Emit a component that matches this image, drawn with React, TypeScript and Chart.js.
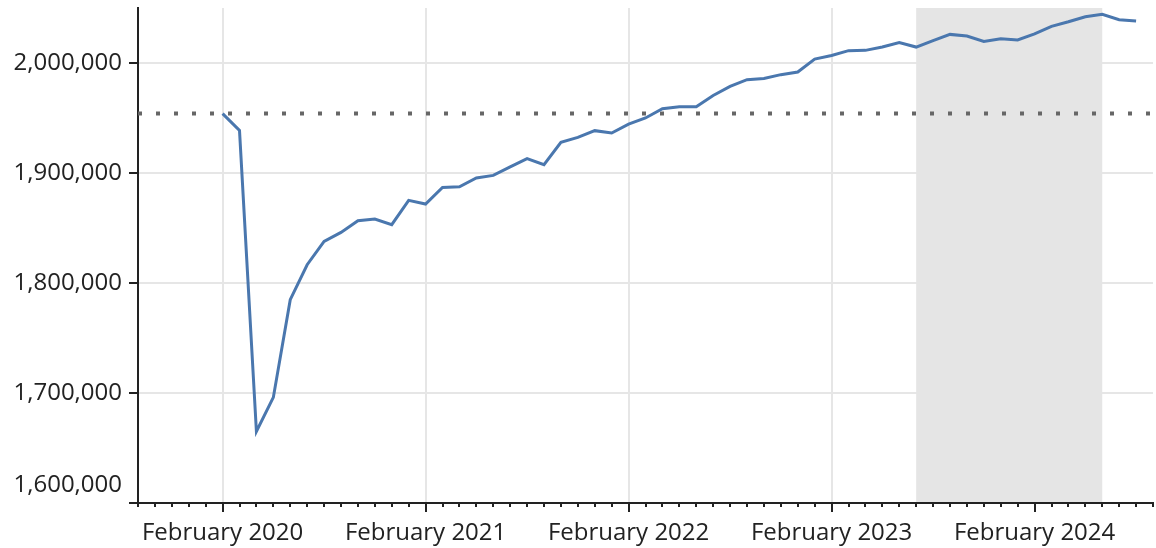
import React, { useEffect, useRef } from "react";
import { Chart, registerables } from "chart.js";

Chart.register(...registerables);

// Months of the series (index 0 = February 2020)
const months: string[] = [
  "2020-02", "2020-03", "2020-04", "2020-05", "2020-06", "2020-07", "2020-08", "2020-09", "2020-10", "2020-11", "2020-12",
  "2021-01", "2021-02", "2021-03", "2021-04", "2021-05", "2021-06", "2021-07", "2021-08", "2021-09", "2021-10", "2021-11", "2021-12",
  "2022-01", "2022-02", "2022-03", "2022-04", "2022-05", "2022-06", "2022-07", "2022-08", "2022-09", "2022-10", "2022-11", "2022-12",
  "2023-01", "2023-02", "2023-03", "2023-04", "2023-05", "2023-06", "2023-07", "2023-08", "2023-09", "2023-10", "2023-11", "2023-12",
  "2024-01", "2024-02", "2024-03", "2024-04", "2024-05", "2024-06", "2024-07", "2024-08",
];

const values: number[] = [
  1954000, 1938700, 1665000, 1696000, 1784800, 1816600, 1837800, 1846000, 1856600, 1858200, 1853000,
  1875100, 1871800, 1886900, 1887500, 1895500, 1897800, 1905500, 1913000, 1907500, 1927800, 1932400, 1938500,
  1936400, 1944500, 1950000, 1958500, 1960300, 1960300, 1970500, 1978700, 1984800, 1986000, 1989400, 1991800,
  2003600, 2006800, 2011200, 2011500, 2014500, 2018700, 2014500, 2020300, 2026000, 2024500, 2019600, 2022100,
  2020900, 2026400, 2033300, 2037500, 2042100, 2044200, 2039400, 2038200,
];

const baselineValue = 1954000; // February 2020 level (dotted reference)

const xTickMonths: string[] = ["2020-02", "2021-02", "2022-02", "2023-02", "2024-02"];
const xTickLabels: string[] = ["February 2020", "February 2021", "February 2022", "February 2023", "February 2024"];

const yTicks: number[] = [1600000, 1700000, 1800000, 1900000, 2000000];

const axisStartMonth = "2019-09";
const axisEndMonth = "2024-09";
const shadeStartMonth = "2023-07";
const shadeEndMonth = "2024-06";

const monthIndex = (m: string) => {
  const [y, mo] = m.split("-").map(Number);
  return (y - 2020) * 12 + (mo - 2);
};

const FONT = "'Open Sans', 'Noto Sans', sans-serif";
const FONT_SIZE = 24;
const TEXT = "#222222";
const fmt = (v: number) => Number(v).toLocaleString("en-US");

export default function App() {
  const ref = useRef<HTMLCanvasElement>(null);

  useEffect(() => {
    if (!ref.current) return;
    const xMin = monthIndex(axisStartMonth);
    const xMax = monthIndex(axisEndMonth);
    const tickIdx = xTickMonths.map(monthIndex);
    const yMinTick = yTicks[0];

    const shadePlugin = {
      id: "shade",
      beforeDatasetsDraw(chart: any) {
        const { ctx, chartArea, scales } = chart;
        const x0 = scales.x.getPixelForValue(monthIndex(shadeStartMonth));
        const x1 = scales.x.getPixelForValue(monthIndex(shadeEndMonth));
        ctx.save();
        ctx.fillStyle = "#e5e5e5";
        ctx.fillRect(x0, chartArea.top, x1 - x0, chartArea.bottom - chartArea.top - 1);
        ctx.restore();
      },
    };

    const extrasPlugin = {
      id: "extras",
      afterDraw(chart: any) {
        const { ctx, chartArea, scales } = chart;
        ctx.save();
        // minor monthly ticks
        ctx.strokeStyle = TEXT;
        ctx.lineWidth = 2;
        for (let m = xMin; m <= xMax; m++) {
          if (tickIdx.includes(m)) continue;
          const x = Math.round(scales.x.getPixelForValue(m));
          ctx.beginPath();
          ctx.moveTo(x, chartArea.bottom);
          ctx.lineTo(x, chartArea.bottom + 4);
          ctx.stroke();
        }
        // bottom y label, lifted above the axis corner
        ctx.fillStyle = TEXT;
        ctx.font = `${FONT_SIZE}px ${FONT}`;
        ctx.textAlign = "right";
        ctx.textBaseline = "middle";
        const yPix = scales.y.getPixelForValue(yMinTick);
        ctx.fillText(fmt(yMinTick), chartArea.left - 16, yPix - 18);
        ctx.restore();
      },
    };

    const chart = new Chart(ref.current, {
      type: "line",
      data: {
        datasets: [
          {
            data: values.map((v, i) => ({ x: monthIndex(months[i]), y: v })),
            borderColor: "#4a77ae",
            borderWidth: 3,
            pointRadius: 0,
            tension: 0,
            fill: false,
          },
          {
            data: [
              { x: xMin, y: baselineValue },
              { x: xMax, y: baselineValue },
            ],
            borderColor: "#666666",
            borderWidth: 4,
            borderDash: [4, 14],
            borderCapStyle: "butt",
            pointRadius: 0,
            fill: false,
          },
        ],
      },
      options: {
        responsive: false,
        animation: false,
        devicePixelRatio: 1,
        layout: { padding: { left: 0, top: 8, right: 3, bottom: 0 } },
        plugins: { legend: { display: false }, tooltip: { enabled: false } },
        scales: {
          x: {
            type: "linear",
            min: xMin,
            max: xMax,
            afterBuildTicks: (s: any) => {
              s.ticks = tickIdx.map((v) => ({ value: v }));
            },
            afterFit: (s: any) => {
              s.height = 45;
              s.paddingLeft = 0;
              s.paddingRight = 0;
            },
            ticks: {
              autoSkip: false,
              maxRotation: 0,
              padding: 7,
              color: TEXT,
              font: { family: FONT, size: FONT_SIZE },
              callback: (v: any) => {
                const k = tickIdx.indexOf(Number(v));
                return k >= 0 ? xTickLabels[k] : "";
              },
            },
            grid: { color: "#e6e6e6", lineWidth: 2, tickLength: 9, tickColor: TEXT, tickWidth: 2 },
            border: { color: TEXT, width: 2 },
          },
          y: {
            type: "linear",
            min: 1600000,
            max: 2050000,
            afterBuildTicks: (s: any) => {
              s.ticks = yTicks.map((v) => ({ value: v }));
            },
            afterFit: (s: any) => {
              s.width = 138;
              s.paddingTop = 0;
              s.paddingBottom = 0;
            },
            ticks: {
              padding: 7,
              color: TEXT,
              font: { family: FONT, size: FONT_SIZE },
              callback: (v: any) => (Number(v) === yMinTick ? "" : fmt(v)),
            },
            grid: { color: "#e6e6e6", lineWidth: 2, tickLength: 9, tickColor: TEXT, tickWidth: 2 },
            border: { color: TEXT, width: 2 },
          },
        },
      },
      plugins: [shadePlugin, extrasPlugin],
    } as any);

    return () => chart.destroy();
  }, []);

  return (
    <div style={{ position: "absolute", left: 0, top: 0, width: 1156, height: 548, background: "#fff" }}>
      <canvas ref={ref} width={1156} height={548} style={{ display: "block" }} />
    </div>
  );
}
